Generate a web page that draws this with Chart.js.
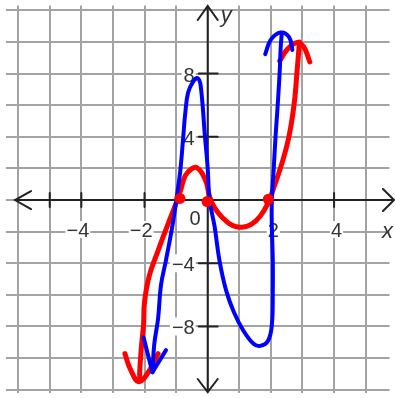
<!DOCTYPE html>
<html>
<head>
<meta charset="utf-8">
<script src="https://cdn.jsdelivr.net/npm/chart.js@4.4.1/dist/chart.umd.min.js"></script>
<style>
  body { margin: 0; background: #fff; }
  canvas { display: block; }
</style>
</head>
<body>
<canvas id="myChart" width="395" height="398"></canvas>
<script>
// grid + axis
let xGrid = [-6, -5, -4, -3, -2, -1, 0, 1, 2, 3, 4, 5]
let yGrid = [-12, -10, -8, -6, -4, -2, 0, 2, 4, 6, 8, 10, 12]
let xTickMarks = [-5, -4, -2, 2, 4]
let yTickMarks = [8, 4, -4, -8]
let xLabels = ["\u22124", "\u22122", "2", "4"]
let xLabelVals = [-4, -2, 2, 4]
let yLabels = ["8", "4", "\u22124", "\u22128"]
let yLabelVals = [8, 4, -4, -8]

// red curve
let redX = [-2.15, -2.15, -2.09, -2.03, -2.0, -1.85, -1.57, -1.26, -1.02, -0.86, -0.71, -0.49, -0.34, -0.18, -0.03, 0.06, 0.22, 0.46, 0.77, 1.08, 1.38, 1.66, 1.91, 2.06, 2.37, 2.58, 2.74, 2.83, 2.89, 2.9]
let redY = [-11.4, -10.8, -9.1, -7.9, -6.46, -4.8, -3.2, -1.54, -0.3, 0.6, 1.54, 2.0, 2.05, 1.7, 1.03, 0.2, -0.5, -1.1, -1.6, -1.72, -1.54, -1.03, -0.2, 0.6, 2.46, 4.1, 6.15, 8.2, 9.65, 10.0]
let redLowX = [-2.62, -2.46, -2.18, -1.85, -1.57]
let redLowY = [-9.72, -10.65, -11.5, -10.8, -9.72]
let redTopX = [2.28, 2.52, 2.83, 3.05, 3.23]
let redTopY = [8.8, 9.54, 9.97, 9.66, 8.74]
let dotX = [-0.88, -0.02, 1.92]
let dotY = [0.1, -0.1, 0.05]

// blue curve
let blueX = [-1.75, -1.69, -1.57, -1.48, -1.32, -1.11, -0.95, -0.86, -0.77, -0.71, -0.62, -0.46, -0.31, -0.22, -0.09, 0, 0.06, 0.22, 0.37, 0.58, 0.83, 1.14, 1.45, 1.66, 1.91, 2.03, 2.06, 2.06, 2.03, 2.03, 2.09, 2.15, 2.22, 2.28, 2.31, 2.34]
let blueY = [-10.9, -9.1, -7.5, -5.4, -3.8, -1.54, 0.6, 2.0, 4.1, 5.5, 6.8, 7.5, 7.7, 7.2, 4.1, 2.0, 0, -1.7, -3.8, -5.7, -7.1, -8.3, -9.1, -9.23, -8.9, -7.9, -5.85, -3.8, -1.7, 0, 2.0, 4.1, 6.15, 8.2, 9.65, 10.46]
let blueLowX = [-2.03, -1.75, -1.32]
let blueLowY = [-8.7, -10.9, -9.5]
let blueTopX = [1.82, 2.0, 2.31, 2.58, 2.68]
let blueTopY = [9.23, 10.15, 10.6, 10.3, 9.5]

function pts(xs, ys) {
    let out = []
    for (let i = 0; i < xs.length; i++) {
        out.push({ x: xs[i], y: ys[i] })
    }
    return out
}

function line(xs, ys, color, width, order, tension) {
    return {
        data: pts(xs, ys),
        showLine: true,
        borderColor: color,
        borderWidth: width,
        pointRadius: 0,
        tension: tension,
        borderCapStyle: 'round',
        borderJoinStyle: 'round',
        order: order
    }
}

const axesPlugin = {
    id: 'axesPlugin',
    beforeDatasetsDraw(chart) {
        const ctx = chart.ctx
        const xs = chart.scales.x
        const ys = chart.scales.y
        const ox = xs.getPixelForValue(0)
        const oy = ys.getPixelForValue(0)
        const W = chart.width
        const H = chart.height
        ctx.save()
        ctx.strokeStyle = '#222'
        ctx.lineWidth = 2
        ctx.lineCap = 'round'
        ctx.beginPath()
        ctx.moveTo(15, oy); ctx.lineTo(W - 1, oy)
        ctx.moveTo(ox, 6); ctx.lineTo(ox, H - 6)
        // arrows
        ctx.moveTo(31, oy - 9); ctx.lineTo(15, oy); ctx.lineTo(31, oy + 9)
        ctx.moveTo(W - 12, oy - 11); ctx.lineTo(W - 1, oy); ctx.lineTo(W - 12, oy + 11)
        ctx.moveTo(ox - 10, 20); ctx.lineTo(ox, 6); ctx.lineTo(ox + 10, 20)
        ctx.moveTo(ox - 10, H - 19); ctx.lineTo(ox, H - 6); ctx.lineTo(ox + 10, H - 19)
        xTickMarks.forEach(v => {
            let p = xs.getPixelForValue(v)
            ctx.moveTo(p, oy - 7); ctx.lineTo(p, oy + 7)
        })
        yTickMarks.forEach(v => {
            let p = ys.getPixelForValue(v)
            ctx.moveTo(ox - 9, p); ctx.lineTo(ox + 10, p)
        })
        ctx.stroke()

        ctx.font = '20px "Liberation Sans", Arial, sans-serif'
        ctx.fillStyle = '#333'
        ctx.textBaseline = 'alphabetic'
        ctx.textAlign = 'right'
        for (let i = 0; i < xLabels.length; i++) {
            let p = xs.getPixelForValue(xLabelVals[i])
            let w = ctx.measureText(xLabels[i]).width
            ctx.fillStyle = '#fff'
            ctx.fillRect(p + 8 - w - 1, oy + 21, w + 2, 17)
            ctx.fillStyle = '#333'
            ctx.fillText(xLabels[i], p + 8, oy + 37)
        }
        ctx.fillStyle = '#fff'
        ctx.fillRect(ox - 21, oy + 8, 14, 18)
        ctx.fillStyle = '#333'
        ctx.fillText('0', ox - 7, oy + 25)
        for (let i = 0; i < yLabels.length; i++) {
            let p = ys.getPixelForValue(yLabelVals[i])
            let w = ctx.measureText(yLabels[i]).width
            ctx.fillStyle = '#fff'
            ctx.fillRect(ox - 14 - w - 1, p - 9, w + 3, 18)
            ctx.fillStyle = '#333'
            ctx.fillText(yLabels[i], ox - 13, p + 8)
        }
        ctx.font = 'italic 22px "Liberation Sans", Arial, sans-serif'
        ctx.textAlign = 'left'
        ctx.fillText('y', ox + 13, 22)
        ctx.fillText('x', W - 13, oy + 38)
        ctx.restore()
    }
}

new Chart('myChart', {
    type: 'scatter',
    data: {
        datasets: [
            Object.assign(line(redX, redY, '#ff0000', 5, 3, 0.4)),
            line(redLowX, redLowY, '#ff0000', 5, 3, 0.4),
            line(redTopX, redTopY, '#ff0000', 5, 3, 0.4),
            line(blueX, blueY, '#0000ff', 4, 2, 0.4),
            line(blueLowX, blueLowY, '#0000ff', 4, 2, 0),
            line(blueTopX, blueTopY, '#0000ff', 4, 2, 0.4),
            {
                data: pts(dotX, dotY),
                pointRadius: 5.5,
                pointBackgroundColor: '#ff0000',
                pointBorderWidth: 0,
                order: 1
            }
        ]
    },
    options: {
        responsive: false,
        animation: false,
        layout: { padding: 0 },
        plugins: {
            legend: { display: false },
            tooltip: { enabled: false }
        },
        scales: {
            x: {
                type: 'linear',
                min: -6.4,
                max: 5.754,
                afterBuildTicks: s => { s.ticks = xGrid.map(v => ({ value: v })) },
                ticks: { display: false },
                grid: { color: '#a3a3a3', lineWidth: 2, drawTicks: false },
                border: { display: false }
            },
            y: {
                type: 'linear',
                min: -12.18,
                max: 12.31,
                afterBuildTicks: s => { s.ticks = yGrid.map(v => ({ value: v })) },
                ticks: { display: false },
                grid: { color: '#a3a3a3', lineWidth: 2, drawTicks: false },
                border: { display: false }
            }
        }
    },
    plugins: [axesPlugin]
});
</script>
</body>
</html>
